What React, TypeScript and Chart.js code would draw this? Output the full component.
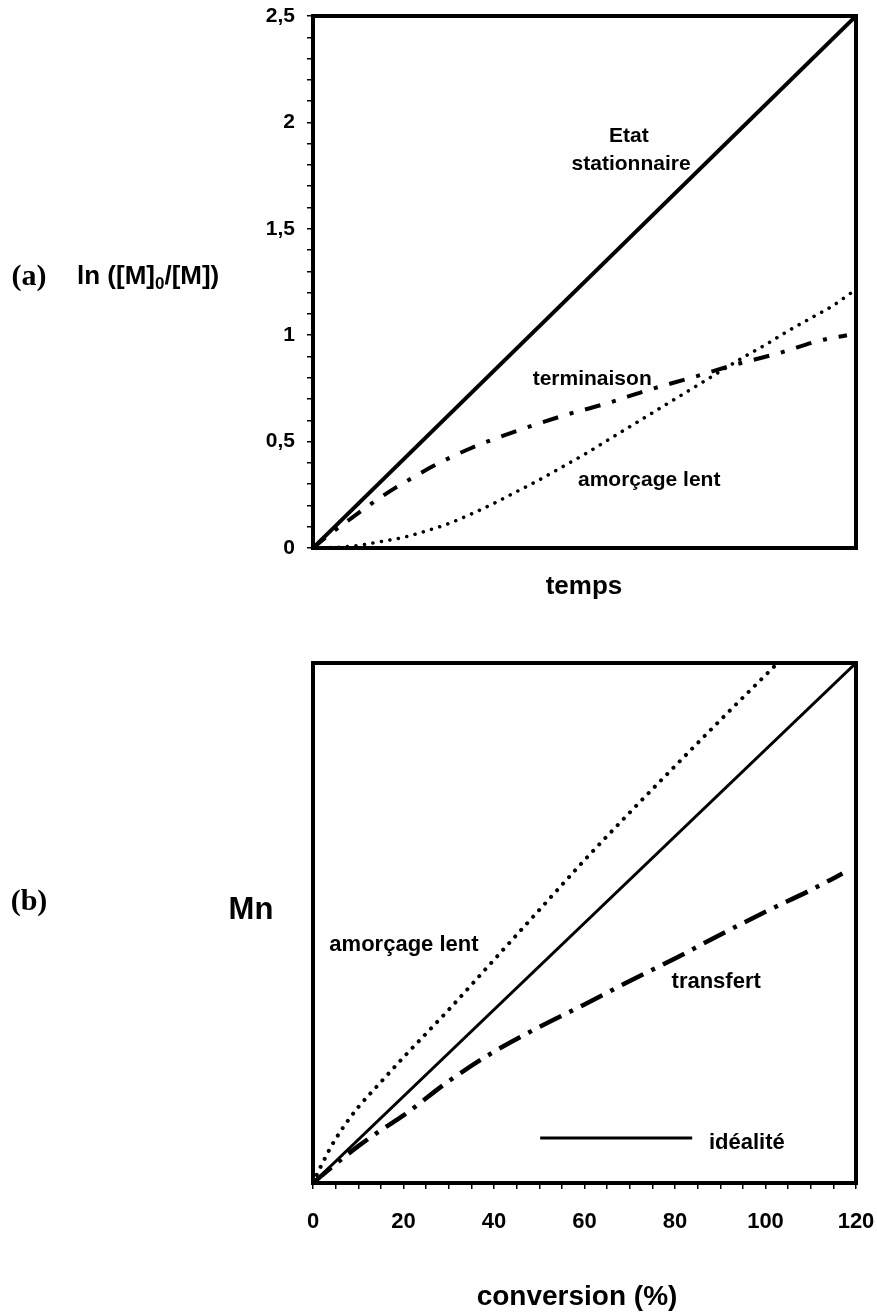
import React, { useEffect, useRef } from "react";
import { Chart, registerables } from "chart.js";

Chart.register(...registerables);

// ---------- Chart (a) data ----------
const tempsStat = [0, 120];
const stationnaire = [0, 2.5];
const termX = [0, 4, 8.5, 13, 18, 22, 27, 35, 45, 55, 65, 74, 83.6, 93, 103, 112, 118];
const termY = [0, 0.07, 0.14, 0.21, 0.28, 0.33, 0.39, 0.47, 0.55, 0.62, 0.68, 0.742, 0.8, 0.86, 0.916, 0.975, 1.0];
const amorcAX = [0, 5, 10, 15, 20, 25, 30, 35, 40, 45, 50, 55, 60, 65, 70, 75, 80, 85, 90, 95, 100, 105, 110, 115, 119];
const amorcAY = [0, 0.003, 0.012, 0.03, 0.05, 0.08, 0.115, 0.16, 0.21, 0.265, 0.32, 0.38, 0.44, 0.505, 0.57, 0.635, 0.7, 0.765, 0.83, 0.895, 0.955, 1.02, 1.08, 1.14, 1.2];
const yTickLabelsA = ["0", "0,5", "1", "1,5", "2", "2,5"];

// ---------- Chart (b) data ----------
const idealX = [0, 120];
const idealY = [0, 120];
const amorcBX = [0, 1, 2, 4, 6, 8, 10, 15, 20, 30, 40, 50, 60, 70, 80, 90, 100, 102.5];
const amorcBY = [0, 2.3, 4.4, 8.4, 11.8, 14.8, 17.5, 23.3, 29, 40, 51.5, 63, 74.5, 85.5, 96.2, 106.8, 117.2, 119.8];
const transX = [0, 5, 10, 15, 20, 30, 40, 50, 60, 70, 80, 90, 100, 110, 117];
const transY = [0, 4.4, 8.5, 12.2, 15.6, 23.5, 30.3, 36, 41.2, 46.6, 51.8, 57.3, 62.6, 67.6, 71.4];
const xTickLabelsB = ["0", "20", "40", "60", "80", "100", "120"];

const SANS = "'Liberation Sans', Arial, Helvetica, sans-serif";
const SERIF = "'Liberation Serif', 'Times New Roman', serif";

const pts = (xs: number[], ys: number[]) => xs.map((x, i) => ({ x, y: ys[i] }));

type TextItem = {
  text: string;
  x: number;
  y: number;
  data?: boolean;
  size: number;
  family?: string;
  align?: CanvasTextAlign;
  sub?: [string, string, string];
};

const framePlugin = {
  id: "frame",
  afterDatasetsDraw(chart: any) {
    const { ctx, chartArea } = chart;
    ctx.save();
    ctx.strokeStyle = "#000";
    ctx.lineWidth = 4;
    ctx.strokeRect(chartArea.left, chartArea.top, chartArea.right - chartArea.left, chartArea.bottom - chartArea.top);
    ctx.restore();
  },
};

const makeTextPlugin = (items: TextItem[], offsetY: number, legend?: { x1: number; x2: number; y: number }) => ({
  id: "texts",
  afterDraw(chart: any) {
    const { ctx, scales } = chart;
    ctx.save();
    ctx.fillStyle = "#000";
    ctx.textBaseline = "middle";
    if (legend) {
      ctx.strokeStyle = "#000";
      ctx.lineWidth = 3;
      ctx.beginPath();
      const yy = scales.y.getPixelForValue(legend.y);
      ctx.moveTo(scales.x.getPixelForValue(legend.x1), yy);
      ctx.lineTo(scales.x.getPixelForValue(legend.x2), yy);
      ctx.stroke();
    }
    items.forEach((it) => {
      const px = it.data ? scales.x.getPixelForValue(it.x) : it.x;
      const py = it.data ? scales.y.getPixelForValue(it.y) : it.y - offsetY;
      ctx.font = `bold ${it.size}px ${it.family || SANS}`;
      ctx.textAlign = it.align || "center";
      if (it.sub) {
        ctx.textAlign = "left";
        let x = px;
        ctx.fillText(it.sub[0], x, py);
        x += ctx.measureText(it.sub[0]).width;
        ctx.font = `bold ${Math.round(it.size * 0.65)}px ${it.family || SANS}`;
        ctx.fillText(it.sub[1], x, py + it.size * 0.3);
        x += ctx.measureText(it.sub[1]).width;
        ctx.font = `bold ${it.size}px ${it.family || SANS}`;
        ctx.fillText(it.sub[2], x, py);
      } else {
        ctx.fillText(it.text, px, py);
      }
    });
    ctx.restore();
  },
});

const textsA: TextItem[] = [
  { text: "Etat", x: 69.8, y: 1.934, data: true, size: 21 },
  { text: "stationnaire", x: 70.3, y: 1.802, data: true, size: 21 },
  { text: "terminaison", x: 61.7, y: 0.794, data: true, size: 21 },
  { text: "amorçage lent", x: 74.3, y: 0.32, data: true, size: 21 },
  { text: "(a)", x: 29, y: 277, size: 30, family: SERIF },
  { text: "", x: 77, y: 277, size: 26, sub: ["ln ([M]", "0", "/[M])"] },
  { text: "temps", x: 584, y: 587, size: 26 },
];

const textsB: TextItem[] = [
  { text: "amorçage lent", x: 20.1, y: 54.9, data: true, size: 22 },
  { text: "transfert", x: 89.1, y: 46.4, data: true, size: 22 },
  { text: "idéalité", x: 87.5, y: 9.2, data: true, size: 22, align: "left" },
  { text: "(b)", x: 29, y: 902, size: 30, family: SERIF },
  { text: "Mn", x: 251, y: 910, size: 31 },
  { text: "conversion (%)", x: 577, y: 1297, size: 28 },
];

const TOP_A = 0;
const H_A = 620;
const TOP_B = 620;
const H_B = 692;

function ChartA() {
  const ref = useRef<HTMLCanvasElement>(null);
  useEffect(() => {
    const chart = new Chart(ref.current!, {
      type: "line",
      data: {
        datasets: [
          {
            data: pts(tempsStat, stationnaire),
            borderColor: "#000",
            borderWidth: 4,
            pointRadius: 0,
          },
          {
            data: pts(termX, termY),
            borderColor: "#000",
            borderWidth: 4,
            borderDash: [16, 12, 4, 12],
            borderCapStyle: "butt",
            pointRadius: 0,
            cubicInterpolationMode: "monotone",
          },
          {
            data: pts(amorcAX, amorcAY),
            borderColor: "#000",
            borderWidth: 3.5,
            borderDash: [0.1, 8.5],
            borderCapStyle: "round",
            pointRadius: 0,
            cubicInterpolationMode: "monotone",
          },
        ],
      },
      options: {
        responsive: false,
        animation: false,
        events: [],
        layout: { padding: { left: 0, top: 16, right: 21, bottom: H_A - 548 } },
        plugins: { legend: { display: false }, tooltip: { enabled: false } },
        scales: {
          x: { type: "linear", min: 0, max: 120, display: false },
          y: {
            type: "linear",
            min: 0,
            max: 2.5,
            ticks: {
              stepSize: 0.1,
              maxTicksLimit: 1000,
              autoSkip: false,
              padding: 12,
              color: "#000",
              font: { family: SANS, size: 21, weight: "bold" },
              callback: (v: any) => {
                const k = Number(v) * 2;
                return Math.abs(k - Math.round(k)) < 1e-6 ? yTickLabelsA[Math.round(k)] : "";
              },
            },
            grid: { display: true, drawOnChartArea: false, drawTicks: true, tickLength: 6, color: "#000", lineWidth: 1.5 },
            border: { display: false },
            afterFit: (s: any) => {
              s.width = 313;
              s.paddingTop = 0;
              s.paddingBottom = 0;
            },
          },
        },
      } as any,
      plugins: [framePlugin, makeTextPlugin(textsA, TOP_A)],
    });
    return () => chart.destroy();
  }, []);
  return <canvas ref={ref} width={877} height={H_A} style={{ display: "block", position: "absolute", left: 0, top: TOP_A }} />;
}

function ChartB() {
  const ref = useRef<HTMLCanvasElement>(null);
  useEffect(() => {
    const chart = new Chart(ref.current!, {
      type: "line",
      data: {
        datasets: [
          {
            data: pts(idealX, idealY),
            borderColor: "#000",
            borderWidth: 3,
            pointRadius: 0,
          },
          {
            data: pts(amorcBX, amorcBY),
            borderColor: "#000",
            borderWidth: 4,
            borderDash: [0.1, 8.8],
            borderCapStyle: "round",
            pointRadius: 0,
            cubicInterpolationMode: "monotone",
          },
          {
            data: pts(transX, transY),
            borderColor: "#000",
            borderWidth: 4.5,
            borderDash: [24, 9, 4, 9],
            borderCapStyle: "butt",
            pointRadius: 0,
            cubicInterpolationMode: "monotone",
          },
        ],
      },
      options: {
        responsive: false,
        animation: false,
        events: [],
        layout: { padding: { left: 313, top: 663 - TOP_B, right: 21, bottom: 0 } },
        plugins: { legend: { display: false }, tooltip: { enabled: false } },
        scales: {
          x: {
            type: "linear",
            min: 0,
            max: 120,
            ticks: {
              stepSize: 5,
              maxTicksLimit: 1000,
              autoSkip: false,
              maxRotation: 0,
              padding: 20,
              color: "#000",
              font: { family: SANS, size: 22, weight: "bold" },
              callback: (v: any) => {
                const n = Number(v);
                return n % 20 === 0 ? xTickLabelsB[Math.round(n / 20)] : "";
              },
            },
            grid: { display: true, drawOnChartArea: false, drawTicks: true, tickLength: 6, color: "#000", lineWidth: 1.5 },
            border: { display: false },
            afterFit: (s: any) => {
              s.height = TOP_B + H_B - 1183;
              s.paddingLeft = 0;
              s.paddingRight = 0;
            },
          },
          y: { type: "linear", min: 0, max: 120, display: false },
        },
      } as any,
      plugins: [framePlugin, makeTextPlugin(textsB, TOP_B, { x1: 50.2, x2: 83.8, y: 10.4 })],
    });
    return () => chart.destroy();
  }, []);
  return <canvas ref={ref} width={877} height={H_B} style={{ display: "block", position: "absolute", left: 0, top: TOP_B }} />;
}

export default function App() {
  return (
    <div style={{ position: "absolute", left: 0, top: 0, width: 877, height: 1312, background: "#fff" }}>
      <ChartA />
      <ChartB />
    </div>
  );
}
